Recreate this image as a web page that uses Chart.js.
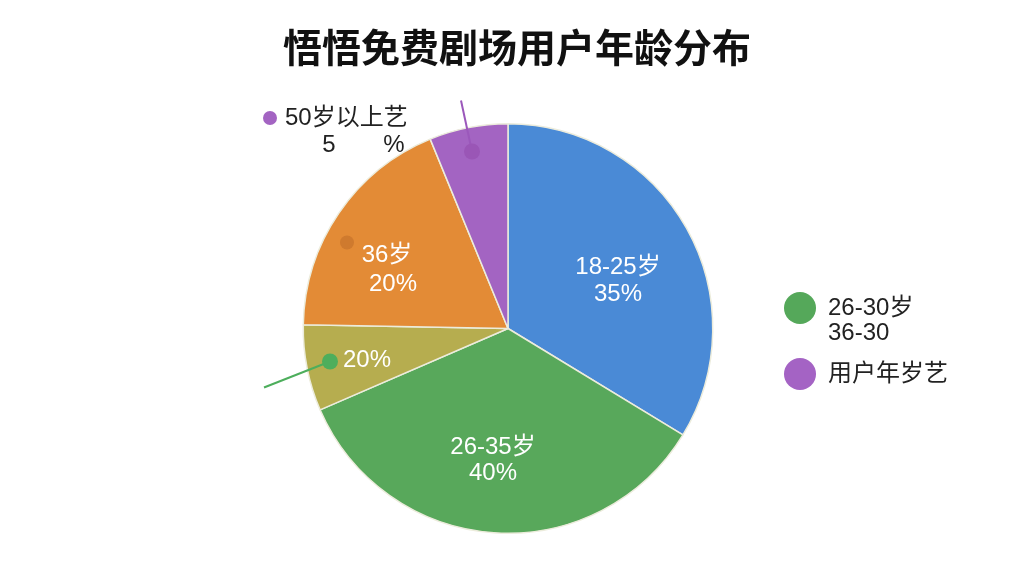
<!DOCTYPE html>
<html>
<head>
<meta charset="utf-8">
<script src="https://cdn.jsdelivr.net/npm/chart.js@4.4.1/dist/chart.umd.min.js"></script>
<style>
html,body{margin:0;padding:0;background:#fff;}
#wrap{width:1024px;height:576px;position:relative;}
</style>
</head>
<body>
<div id="wrap"><canvas id="c" width="1024" height="576"></canvas></div>
<script>
const titleText = '悟悟免费剧场用户年龄分布';
const categories = ['18-25岁', '26-35岁', '20%', '36岁', '50岁以上艺'];
const values = [33.7, 34.8, 6.8, 18.5, 6.2];
const sliceLabels = [['18-25岁', '35%'], ['26-35岁', '40%'], ['20%'], ['36岁', '20%'], []];
const outsideLabel = ['50岁以上艺', '5', '%'];
const legendLabels = [['26-30岁', '36-30'], ['用户年岁艺']];
const colors = ['#4a8ad6', '#58a85b', '#b6ad4f', '#e38b36', '#a364c2'];
const legendColors = ['#55a85a', '#a463c4'];

const FONT = '"Liberation Sans", Arial, "Noto Sans CJK SC", sans-serif';

const overlay = {
  id: 'overlay',
  afterDraw(chart) {
    const ctx = chart.ctx;
    const arcs = chart.getDatasetMeta(0).data;
    const cx = arcs[0].x, cy = arcs[0].y;
    ctx.save();
    // title
    ctx.fillStyle = '#111';
    ctx.font = 'bold 39px "Noto Sans CJK SC", sans-serif';
    ctx.textAlign = 'center';
    ctx.textBaseline = 'middle';
    ctx.fillText(titleText, 517, 47);

    // slice labels (white)
    const pos = [[110, -61, 27], [-15, 119, 26], [-141, 32, 28], [-121, -73, 29]];
    ctx.fillStyle = '#ffffff';
    ctx.font = '24px ' + FONT;
    sliceLabels.forEach((lines, i) => {
      if (!lines.length) return;
      const p = pos[i];
      lines.forEach((t, j) => {
        ctx.fillText(t, cx + p[0] + (i === 3 && j === 1 ? 6 : 0), cy + p[1] + j * p[2]);
      });
    });

    // orange marker dot
    ctx.fillStyle = '#cf7a2e';
    ctx.beginPath(); ctx.arc(cx - 161, cy - 86, 7, 0, Math.PI * 2); ctx.fill();

    // olive slice leader line + dot
    ctx.strokeStyle = '#4dae5c';
    ctx.lineWidth = 2;
    ctx.beginPath(); ctx.moveTo(cx - 178, cy + 33); ctx.lineTo(cx - 244, cy + 59); ctx.stroke();
    ctx.fillStyle = '#4dae5c';
    ctx.beginPath(); ctx.arc(cx - 178, cy + 33, 8, 0, Math.PI * 2); ctx.fill();

    // purple leader line + dot
    ctx.strokeStyle = '#9b58bb';
    ctx.lineWidth = 2;
    ctx.beginPath(); ctx.moveTo(cx - 47, cy - 228); ctx.lineTo(cx - 36, cy - 177); ctx.stroke();
    ctx.fillStyle = '#9a56b6';
    ctx.beginPath(); ctx.arc(cx - 36, cy - 177, 8, 0, Math.PI * 2); ctx.fill();

    // outside label
    ctx.fillStyle = '#a364c2';
    ctx.beginPath(); ctx.arc(270, 118, 7, 0, Math.PI * 2); ctx.fill();
    ctx.fillStyle = '#222';
    ctx.font = '24px ' + FONT;
    ctx.textAlign = 'left';
    ctx.fillText(outsideLabel[0], 285, 118);
    ctx.textAlign = 'center';
    ctx.fillText(outsideLabel[1], 329, 145);
    ctx.fillText(outsideLabel[2], 394, 145);

    // legend
    const lx = 800, ly = [308, 374];
    legendLabels.forEach((lines, i) => {
      ctx.fillStyle = legendColors[i];
      ctx.beginPath(); ctx.arc(lx, ly[i], 16, 0, Math.PI * 2); ctx.fill();
      ctx.fillStyle = '#222';
      ctx.font = '24px ' + FONT;
      ctx.textAlign = 'left';
      lines.forEach((t, j) => ctx.fillText(t, 828, ly[i] + j * 25));
    });
    ctx.restore();
  }
};

new Chart(document.getElementById('c'), {
  type: 'pie',
  data: {
    labels: categories,
    datasets: [{
      data: values,
      backgroundColor: colors,
      borderColor: '#ececdc',
      borderWidth: 1.5
    }]
  },
  options: {
    responsive: false,
    animation: false,
    layout: { padding: { left: 300, right: 308, top: 123, bottom: 42 } },
    plugins: {
      legend: { display: false },
      title: { display: false },
      tooltip: { enabled: false }
    }
  },
  plugins: [overlay]
});
</script>
</body>
</html>
